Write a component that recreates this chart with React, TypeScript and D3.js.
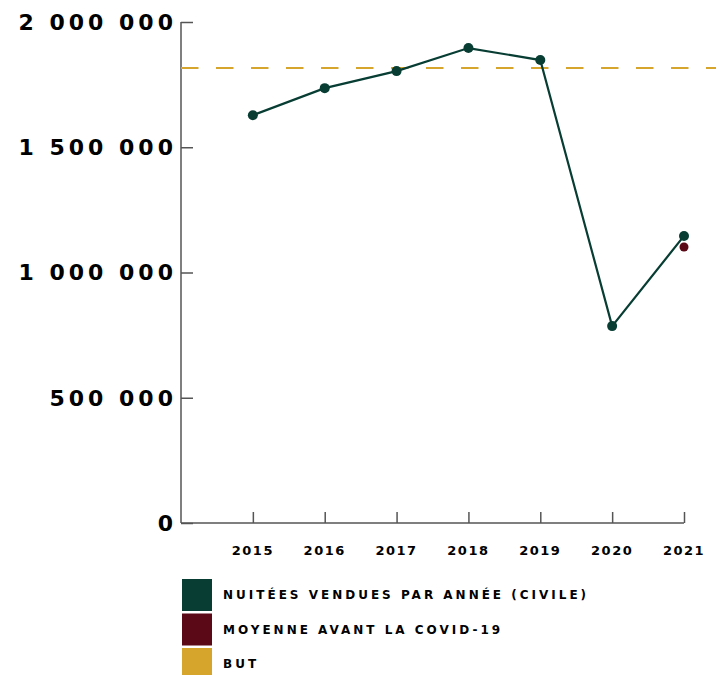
import { useEffect, useRef } from 'react';
import * as d3 from 'd3';

const years = [2015, 2016, 2017, 2018, 2019, 2020, 2021];
const nights = [1628000, 1736000, 1804000, 1896000, 1848000, 786000, 1146000];
const preCovidYear = 2021;
const preCovidAvg = 1102000;
const goal = 1816000;
const yTicks = [0, 500000, 1000000, 1500000, 2000000];
const legendLabels = ['NUITÉES VENDUES PAR ANNÉE (CIVILE)', 'MOYENNE AVANT LA COVID-19', 'BUT'];
const legendColors = ['#073d33', '#5b0817', '#d5a62b'];

const FONT = '"DejaVu Sans", sans-serif';

export default function App() {
  const ref = useRef<SVGSVGElement>(null);

  useEffect(() => {
    const svg = d3.select(ref.current);
    svg.selectAll('*').remove();

    const left = 181;
    const right = 684;
    const top = 22;
    const bottom = 523;

    const x = d3.scaleLinear().domain([2014, 2021]).range([left, right]);
    const y = d3.scaleLinear().domain([0, 2000000]).range([bottom, top]);

    const fr = d3.formatLocale({ decimal: ',', thousands: ' ', grouping: [3], currency: ['', ' €'] });
    const fmt = fr.format(',d');

    // y axis
    const yAxis = svg.append('g')
      .attr('transform', `translate(${left},0)`)
      .call(d3.axisRight(y).tickValues(yTicks).tickSize(12).tickFormat(() => ''));
    yAxis.select('.domain').attr('stroke', '#555').attr('stroke-width', 1.5).attr('d', `M0,${top}V${bottom}`);
    yAxis.selectAll('.tick line').attr('stroke', '#555').attr('stroke-width', 1.5);

    svg.append('g').selectAll('text')
      .data(yTicks)
      .join('text')
      .attr('x', 177)
      .attr('y', (d) => y(d))
      .attr('dy', '0.36em')
      .attr('text-anchor', 'end')
      .attr('font-family', FONT)
      .attr('font-weight', 'bold')
      .attr('font-size', 22)
      .attr('letter-spacing', 4)
      .attr('fill', '#000')
      .text((d) => fmt(d));

    // x axis
    const xAxis = svg.append('g')
      .attr('transform', `translate(0,${bottom})`)
      .call(d3.axisTop(x).tickValues(years).tickSize(11).tickFormat(() => ''));
    xAxis.select('.domain').attr('stroke', '#555').attr('stroke-width', 1.5).attr('d', `M${left},0H${right}`);
    xAxis.selectAll('.tick line').attr('stroke', '#555').attr('stroke-width', 1.5);

    svg.append('g').selectAll('text')
      .data(years)
      .join('text')
      .attr('x', (d) => x(d))
      .attr('y', 555)
      .attr('text-anchor', 'middle')
      .attr('font-family', FONT)
      .attr('font-weight', 'bold')
      .attr('font-size', 13)
      .attr('letter-spacing', 1.5)
      .attr('fill', '#000')
      .text((d) => String(d));

    // goal line
    svg.append('line')
      .attr('x1', left)
      .attr('x2', 716)
      .attr('y1', y(goal))
      .attr('y2', y(goal))
      .attr('stroke', legendColors[2])
      .attr('stroke-width', 2)
      .attr('stroke-dasharray', '17.5 17.5');

    // series line
    const line = d3.line<number>().x((_, i) => x(years[i])).y((d) => y(d));
    svg.append('path')
      .datum(nights)
      .attr('d', line)
      .attr('fill', 'none')
      .attr('stroke', legendColors[0])
      .attr('stroke-width', 2.2);

    svg.append('g').selectAll('circle')
      .data(nights)
      .join('circle')
      .attr('cx', (_, i) => x(years[i]))
      .attr('cy', (d) => y(d))
      .attr('r', 5)
      .attr('fill', legendColors[0]);

    svg.append('circle')
      .attr('cx', x(preCovidYear))
      .attr('cy', y(preCovidAvg))
      .attr('r', 4.5)
      .attr('fill', legendColors[1]);

    // legend
    const legend = svg.append('g').selectAll('g')
      .data(legendLabels)
      .join('g')
      .attr('transform', (_, i) => `translate(182,${579 + i * 34.5})`);
    legend.append('rect')
      .attr('width', 30)
      .attr('height', 32)
      .attr('fill', (_, i) => legendColors[i]);
    legend.append('text')
      .attr('x', 41)
      .attr('y', 16)
      .attr('dy', '0.36em')
      .attr('font-family', FONT)
      .attr('font-weight', 'bold')
      .attr('font-size', 12)
      .attr('letter-spacing', 3)
      .attr('fill', '#000')
      .text((d) => d);
  }, []);

  return (
    <svg ref={ref} width={724} height={675} style={{ position: 'absolute', left: 0, top: 0, background: '#fff' }} />
  );
}
